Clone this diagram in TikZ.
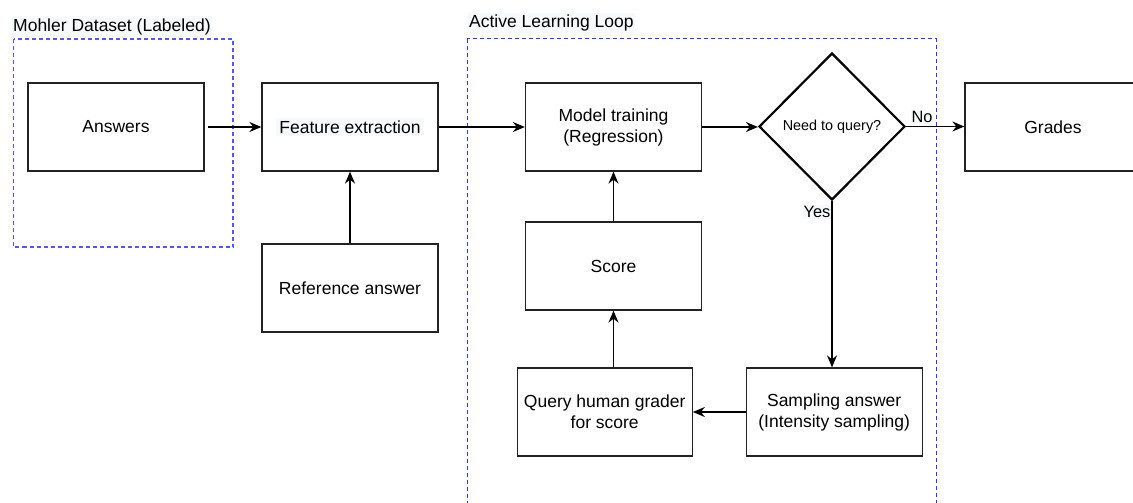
\documentclass[tikz,border=0pt]{standalone}
\usepackage{fontspec}
\setmainfont{Liberation Sans}
\usetikzlibrary{shapes.geometric,arrows.meta}

\definecolor{edge}{HTML}{222222}
\definecolor{labelbg}{HTML}{F8F9FA}
\definecolor{groupblue}{HTML}{3333FF}
\definecolor{groupblue2}{HTML}{5555FF}

\tikzset{
  stepbox/.style={draw=edge, line width=1.3pt, rectangle, minimum width=176pt,
    minimum height=88pt, inner sep=2pt, align=center, text=black,
    font=\fontsize{17.5}{21}\selectfont},
  decision/.style={draw=black, line width=2.2pt, diamond, inner sep=0pt,
    minimum width=146pt, minimum height=147pt, align=center,
    font=\fontsize{14.4}{17}\selectfont},
  flow/.style={draw=black, line width=1.4pt,
    -{Stealth[length=12pt,width=10pt,inset=4pt]}},
  grouplabel/.style={fill=labelbg, inner xsep=1pt, inner ysep=2pt, anchor=west,
    font=\fontsize{17.5}{21}\selectfont},
  edgelabel/.style={fill=labelbg, inner sep=1pt,
    font=\fontsize{16.4}{19}\selectfont},
  groupframe/.style={dash pattern=on 4pt off 3pt},
}

\begin{document}
\begin{tikzpicture}[x=1pt, y=-1pt]
  \useasboundingbox (0,0) rectangle (1133,503);
  \clip (0,0) rectangle (1133,503);

  % group frames
  \draw[groupframe, draw=groupblue2, line width=1.3pt] (13.5,39) rectangle (233,247);
  \node[grouplabel] (mohlerlbl) at (12,26.5) {Mohler Dataset (Labeled)};
  \draw[groupframe, draw=groupblue, line width=1pt] (467,39) rectangle (936,520);
  \node[grouplabel] (looplbl) at (468,23) {Active Learning Loop};

  % process steps
  \node[stepbox] (answers)  at (116,127)   {Answers};
  \node[stepbox] (feature)  at (350,127)   {\colorbox{labelbg}{Feature extraction}};
  \node[stepbox] (refans)   at (350,288)   {Reference answer};
  \node[stepbox] (model)    at (613.5,127) {Model training\\(Regression)};
  \node[decision] (query)   at (832,126.5) {Need to query?};
  \node[stepbox] (grades)   at (1053,127)  {Grades};
  \node[stepbox] (score)    at (613.5,266) {Score};
  \node[stepbox, minimum width=175pt] (human) at (604.7,412)
        {Query human grader\\for score};
  \node[stepbox] (sampling) at (834.2,412) {Sampling answer\\(Intensity sampling)};

  % connectors
  \draw[flow] ([xshift=3pt]answers.east) -- (feature.west);
  \draw[flow] (refans.north) -- (feature.south);
  \draw[flow] (feature.east) -- (model.west);
  \draw[flow] (model.east) -- (model.east -| query.west);
  \draw[flow] (query.east) -- (query.east -| grades.west);
  \node[edgelabel] (nolbl) at (922,117) {No};
  \draw[flow] (query.south) -- (query.south |- sampling.north);
  \node[edgelabel] (yeslbl) at (817,212) {Yes};
  \draw[flow] (sampling.west) -- (human.east);
  \draw[flow] (score.south |- human.north) -- (score.south);
  \draw[flow] (score.north) -- (model.south);
\end{tikzpicture}
\end{document}
